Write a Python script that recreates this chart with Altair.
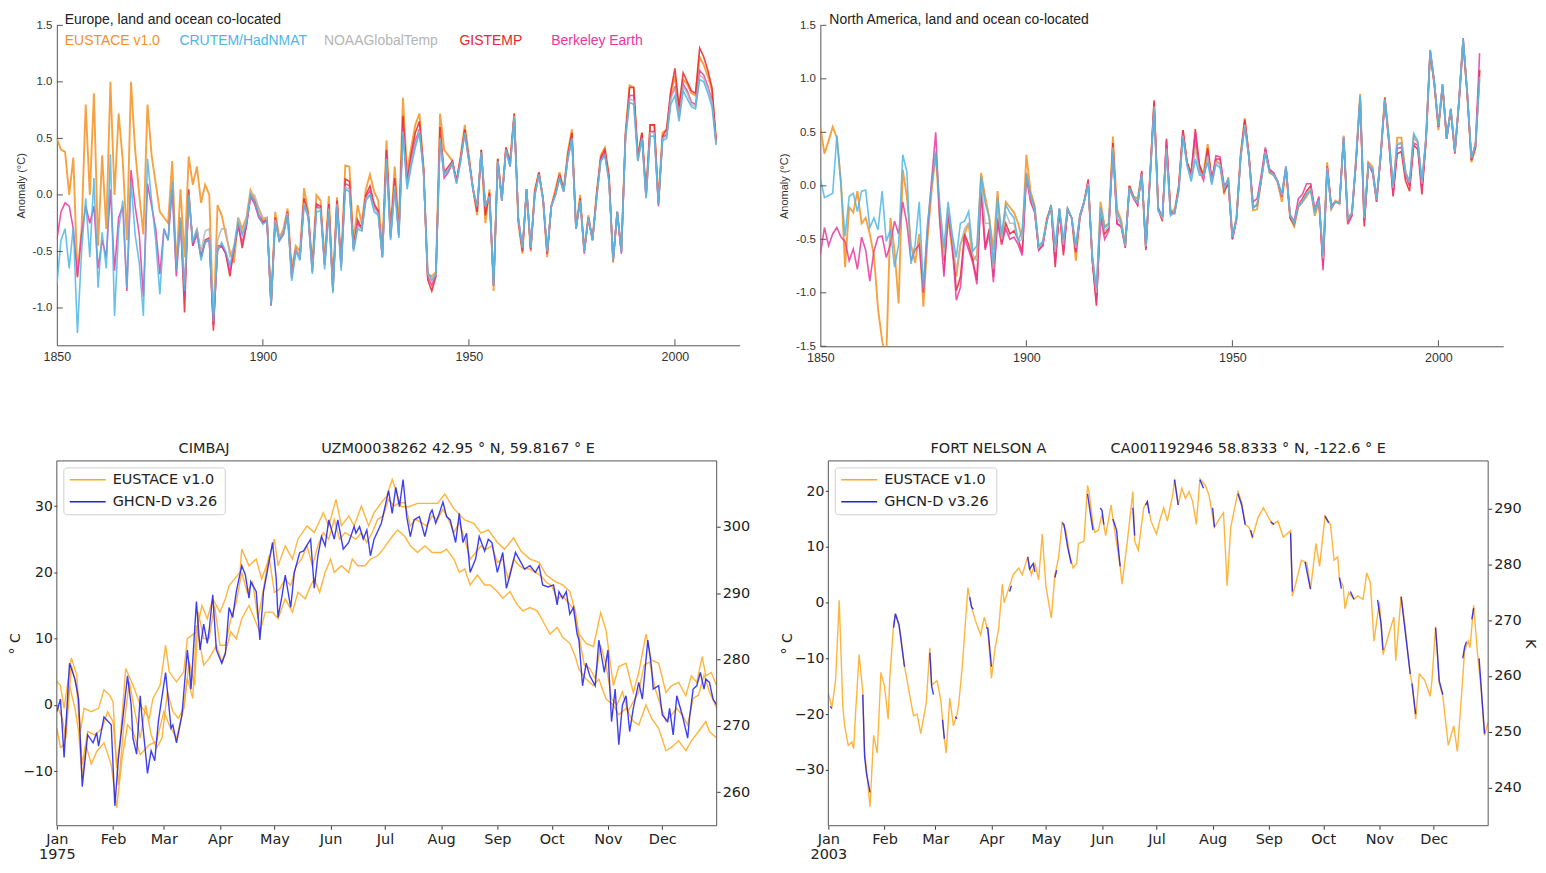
import altair as alt
import pandas as pd

LS = "Liberation Sans"
DJ = "DejaVu Sans"

# ---------------- annual anomalies (deg C), Europe ----------------
EU_START = 1850
EU_EUSTACE = [
    0.50, 0.40, 0.38, 0.00, 0.33, -0.72, -0.30, 0.80, 0.00, 0.90,
    -0.45, 0.35, -0.30, 1.00, 0.00, 0.72, 0.30, -0.40, 1.00, 0.40,
    0.00, -0.35, 0.80, 0.35, 0.10, -0.15, -0.20, -0.25, 0.30, -0.65,
    0.05, -0.55, 0.34, 0.09, 0.25, -0.07, 0.09, 0.00, -1.15, -0.09,
    -0.18, -0.35, -0.50, -0.60, -0.20, -0.30, -0.20, 0.04, -0.04, -0.12,
    -0.22, -0.20, -0.95, -0.15, -0.38, -0.30, -0.12, -0.65, -0.45, -0.50,
    0.06, -0.15, -0.62, 0.00, -0.05, -0.58, -0.01, -0.78, -0.02, -0.60,
    0.26, 0.25, -0.42, -0.09, -0.25, 0.05, 0.18, 0.03, -0.05, -0.48,
    0.48, -0.30, 0.25, -0.28, 0.86, 0.20, 0.42, 0.62, 0.72, 0.25,
    -0.70, -0.72, -0.68, 0.72, 0.40, 0.35, 0.30, 0.12, 0.35, 0.62,
    0.35, 0.05, -0.18, 0.40, -0.25, 0.05, -0.85, 0.32, -0.02, 0.42,
    0.30, 0.72, -0.25, -0.52, 0.05, -0.50, 0.05, 0.20, -0.05, -0.55,
    -0.10, 0.05, 0.20, 0.05, 0.38, 0.58, -0.30, 0.00, -0.48, -0.18,
    -0.40, 0.02, 0.35, 0.42, 0.18, -0.60, -0.15, -0.50, 0.55, 0.97,
    0.95, 0.35, 0.55, 0.02, 0.62, 0.62, -0.05, 0.55, 0.58, 0.90,
    1.05, 0.75, 1.02, 0.98, 0.90, 0.88, 1.22, 1.15, 1.05, 0.92,
    0.48,
]
EU_CRUTEM = [
    -0.80, -0.40, -0.30, -0.65, -0.28, -1.22, -0.50, -0.03, -0.55, 0.15,
    -0.82, -0.33, -0.65, 0.36, -1.07, -0.30, -0.05, -0.82, 0.12, -0.35,
    -0.60, -1.07, 0.32, -0.05, -0.40, -0.88, -0.30, -0.40, 0.12, -0.67,
    -0.23, -0.85, 0.00, -0.42, -0.32, -0.58, -0.41, -0.40, -1.12, -0.50,
    -0.42, -0.50, -0.62, -0.47, -0.25, -0.35, -0.26, 0.00, -0.06, -0.18,
    -0.26, -0.23, -0.98, -0.25, -0.41, -0.35, -0.18, -0.76, -0.50, -0.58,
    -0.09, -0.20, -0.70, -0.15, -0.14, -0.66, -0.15, -0.87, -0.10, -0.67,
    0.05, 0.03, -0.50, -0.30, -0.32, -0.05, 0.00, -0.15, -0.18, -0.55,
    0.30, -0.40, 0.05, -0.38, 0.55, 0.05, 0.25, 0.42, 0.55, 0.20,
    -0.68, -0.75, -0.70, 0.48, 0.18, 0.22, 0.28, 0.10, 0.30, 0.55,
    0.30, 0.05, -0.10, 0.38, -0.10, -0.02, -0.80, 0.30, -0.05, 0.40,
    0.25, 0.68, -0.20, -0.47, 0.05, -0.47, 0.00, 0.18, -0.03, -0.50,
    -0.10, 0.00, 0.15, 0.03, 0.32, 0.50, -0.30, -0.05, -0.50, -0.20,
    -0.40, -0.03, 0.30, 0.35, 0.12, -0.58, -0.15, -0.50, 0.50, 0.82,
    0.80, 0.30, 0.50, -0.03, 0.52, 0.52, -0.08, 0.48, 0.50, 0.80,
    0.88, 0.65, 0.92, 0.85, 0.78, 0.76, 1.02, 1.00, 0.90, 0.78,
    0.44,
]
EU_BERKELEY = [
    -0.40, -0.15, -0.07, -0.10, -0.30, -0.73, -0.35, -0.10, -0.25, -0.10,
    -0.65, -0.40, -0.55, 0.05, -0.67, -0.20, -0.10, -0.85, 0.22, -0.10,
    -0.35, -0.90, 0.10, -0.10, -0.30, -0.70, -0.30, -0.40, 0.05, -0.72,
    -0.22, -0.90, 0.00, -0.45, -0.35, -0.55, -0.42, -0.40, -1.15, -0.48,
    -0.45, -0.52, -0.68, -0.48, -0.28, -0.42, -0.28, -0.02, -0.08, -0.20,
    -0.25, -0.22, -0.98, -0.22, -0.40, -0.35, -0.16, -0.72, -0.48, -0.55,
    -0.06, -0.18, -0.68, -0.10, -0.12, -0.62, -0.10, -0.85, -0.06, -0.64,
    0.10, 0.08, -0.48, -0.25, -0.30, -0.02, 0.04, -0.10, -0.15, -0.55,
    0.35, -0.38, 0.12, -0.36, 0.60, 0.10, 0.32, 0.48, 0.58, 0.22,
    -0.72, -0.80, -0.70, 0.52, 0.15, 0.20, 0.28, 0.12, 0.32, 0.55,
    0.30, 0.05, -0.12, 0.38, -0.08, -0.02, -0.80, 0.30, -0.05, 0.40,
    0.25, 0.70, -0.22, -0.48, 0.05, -0.48, 0.00, 0.18, -0.03, -0.52,
    -0.10, 0.00, 0.15, 0.03, 0.32, 0.50, -0.30, -0.05, -0.52, -0.20,
    -0.40, -0.02, 0.32, 0.37, 0.14, -0.58, -0.15, -0.52, 0.52, 0.88,
    0.88, 0.32, 0.52, -0.02, 0.56, 0.56, -0.10, 0.50, 0.54, 0.86,
    0.96, 0.70, 0.98, 0.92, 0.82, 0.80, 1.10, 1.06, 0.96, 0.84,
    0.46,
]
EU_LATE_START = 1880
EU_GISTEMP = [
    -0.20, -1.04, 0.05, -0.45, -0.30, -0.55, -0.40, -0.38, -1.20, -0.45,
    -0.45, -0.52, -0.72, -0.47, -0.25, -0.47, -0.27, 0.00, -0.06, -0.18,
    -0.24, -0.22, -0.97, -0.20, -0.40, -0.33, -0.15, -0.72, -0.48, -0.55,
    -0.03, -0.17, -0.66, -0.08, -0.10, -0.62, -0.08, -0.85, -0.05, -0.63,
    0.14, 0.12, -0.47, -0.22, -0.30, 0.00, 0.08, -0.08, -0.14, -0.55,
    0.40, -0.36, 0.15, -0.34, 0.70, 0.12, 0.36, 0.55, 0.65, 0.22,
    -0.75, -0.85, -0.72, 0.60, 0.20, 0.25, 0.30, 0.12, 0.33, 0.58,
    0.32, 0.06, -0.15, 0.40, -0.18, 0.02, -0.80, 0.32, -0.05, 0.42,
    0.28, 0.72, -0.22, -0.50, 0.05, -0.48, 0.03, 0.20, -0.03, -0.52,
    -0.10, 0.02, 0.18, 0.04, 0.35, 0.55, -0.30, -0.03, -0.50, -0.20,
    -0.40, 0.00, 0.33, 0.40, 0.16, -0.58, -0.15, -0.50, 0.52, 0.95,
    0.95, 0.33, 0.55, 0.00, 0.62, 0.62, -0.08, 0.52, 0.58, 0.92,
    1.12, 0.78, 1.08, 1.00, 0.92, 0.90, 1.30, 1.22, 1.10, 0.95,
    0.48,
]
EU_NOAA = [
    -0.20, -0.80, 0.00, -0.40, -0.30, -0.50, -0.32, -0.30, -1.05, -0.40,
    -0.30, -0.30, -0.55, -0.45, -0.20, -0.35, -0.22, 0.02, 0.00, -0.12,
    -0.20, -0.20, -0.95, -0.22, -0.38, -0.32, -0.16, -0.74, -0.48, -0.55,
    -0.07, -0.18, -0.68, -0.12, -0.12, -0.62, -0.12, -0.84, -0.08, -0.64,
    0.07, 0.05, -0.48, -0.28, -0.30, -0.03, 0.00, -0.12, -0.17, -0.55,
    0.32, -0.38, 0.08, -0.36, 0.56, 0.08, 0.28, 0.45, 0.57, 0.20,
    -0.70, -0.76, -0.70, 0.50, 0.18, 0.22, 0.28, 0.10, 0.30, 0.55,
    0.30, 0.05, -0.10, 0.38, -0.10, -0.01, -0.80, 0.30, -0.05, 0.40,
    0.25, 0.70, -0.20, -0.47, 0.05, -0.47, 0.00, 0.18, -0.03, -0.50,
    -0.10, 0.00, 0.15, 0.03, 0.32, 0.50, -0.30, -0.05, -0.50, -0.20,
    -0.40, -0.03, 0.30, 0.35, 0.12, -0.58, -0.15, -0.50, 0.50, 0.85,
    0.83, 0.30, 0.50, -0.03, 0.55, 0.55, -0.08, 0.50, 0.52, 0.85,
    0.95, 0.68, 0.96, 0.90, 0.80, 0.78, 1.06, 1.03, 0.94, 0.82,
    0.45,
]

# ---------------- annual anomalies (deg C), North America ----------------
NA_EUSTACE = [
    0.55, 0.30, 0.42, 0.55, 0.45, 0.05, -0.76, -0.20, -0.25, -0.05,
    -0.35, -0.30, -0.45, -0.65, -1.15, -1.45, -1.62, -0.30, -0.60, -1.10,
    0.15, -0.10, -0.55, -0.72, -0.45, -1.13, -0.50, -0.05, 0.30, -0.30,
    -0.70, -0.30, -0.60, -0.85, -0.55, -0.45, -0.35, -0.70, -0.65, 0.12,
    -0.10, -0.30, -0.60, -0.05, -0.55, -0.15, -0.20, -0.25, -0.35, -0.50,
    0.29, -0.05, -0.18, -0.58, -0.52, -0.30, -0.20, -0.68, -0.22, -0.55,
    -0.22, -0.30, -0.70, -0.28, -0.15, 0.02, -0.68, -1.05, -0.15, -0.38,
    -0.35, 0.46, -0.22, -0.32, -0.55, 0.00, -0.10, -0.12, 0.12, -0.58,
    0.08, 0.78, -0.22, -0.30, 0.38, -0.25, -0.22, 0.00, 0.52, 0.22,
    0.10, 0.42, 0.18, 0.12, 0.39, 0.04, 0.24, 0.20, -0.08, 0.08,
    -0.48, -0.30, 0.30, 0.63, 0.30, -0.23, -0.22, 0.05, 0.33, 0.12,
    0.10, 0.03, -0.15, 0.18, -0.30, -0.38, -0.20, -0.15, -0.10, -0.03,
    -0.28, -0.15, -0.70, 0.22, -0.22, -0.14, -0.17, 0.47, -0.33, -0.28,
    0.25, 0.86, -0.32, 0.22, 0.18, -0.15, 0.30, 0.83, 0.45, -0.05,
    0.45, 0.45, 0.14, 0.00, 0.46, 0.40, 0.00, 0.45, 1.25, 0.95,
    0.52, 0.93, 0.44, 0.72, 0.32, 0.80, 1.35, 0.85, 0.22, 0.35,
    1.08,
]
NA_CRUTEM = [
    0.07, -0.11, -0.09, -0.07, 0.47, 0.00, -0.47, -0.10, -0.07, -0.24,
    -0.05, -0.04, -0.39, -0.30, -0.41, -0.05, -0.52, -0.41, -0.76, -0.55,
    0.29, 0.13, -0.73, -0.55, -0.15, -0.95, -0.36, 0.00, 0.32, -0.18,
    -0.58, -0.15, -0.45, -0.67, -0.35, -0.33, -0.24, -0.61, -0.56, 0.09,
    -0.16, -0.30, -0.73, -0.11, -0.45, -0.18, -0.25, -0.30, -0.52, -0.40,
    0.10, -0.08, -0.20, -0.56, -0.52, -0.33, -0.18, -0.55, -0.21, -0.50,
    -0.21, -0.30, -0.55, -0.27, -0.15, 0.00, -0.65, -0.95, -0.20, -0.39,
    -0.36, 0.32, -0.24, -0.35, -0.55, -0.02, -0.11, -0.15, 0.10, -0.56,
    0.05, 0.72, -0.24, -0.28, 0.30, -0.28, -0.24, -0.05, 0.45, 0.19,
    0.04, 0.25, 0.10, 0.10, 0.22, 0.01, 0.20, 0.17, -0.02, 0.07,
    -0.48, -0.30, 0.26, 0.55, 0.26, -0.21, -0.18, 0.05, 0.30, 0.13,
    0.10, 0.04, -0.07, 0.18, -0.27, -0.35, -0.19, -0.15, -0.08, -0.05,
    -0.24, -0.13, -0.65, 0.15, -0.21, -0.15, -0.16, 0.45, -0.30, -0.25,
    0.25, 0.84, -0.28, 0.19, 0.16, -0.12, 0.30, 0.81, 0.44, 0.00,
    0.38, 0.40, 0.12, 0.05, 0.49, 0.42, 0.05, 0.45, 1.27, 0.97,
    0.56, 0.95, 0.44, 0.72, 0.32, 0.80, 1.37, 0.87, 0.26, 0.38,
    1.00,
]
NA_BERKELEY = [
    -0.64, -0.39, -0.56, -0.45, -0.39, -0.48, -0.52, -0.70, -0.59, -0.78,
    -0.48, -0.60, -0.89, -0.61, -0.48, -0.47, -0.67, -0.55, -0.33, -0.45,
    -0.15, -0.35, -0.70, -0.60, -0.55, -1.00, -0.40, 0.05, 0.50, -0.35,
    -0.85, -0.25, -0.55, -1.07, -0.95, -0.48, -0.60, -0.72, -0.92, -0.05,
    -0.60, -0.45, -0.90, -0.35, -0.55, -0.40, -0.50, -0.48, -0.55, -0.65,
    0.08, -0.15, -0.25, -0.60, -0.55, -0.32, -0.20, -0.72, -0.22, -0.62,
    -0.22, -0.30, -0.62, -0.30, -0.16, 0.04, -0.68, -1.08, -0.30, -0.50,
    -0.42, 0.35, -0.36, -0.38, -0.55, -0.03, -0.12, -0.18, 0.12, -0.58,
    0.08, 0.75, -0.20, -0.30, 0.42, -0.26, -0.26, -0.02, 0.50, 0.20,
    0.10, 0.50, 0.15, 0.05, 0.30, 0.05, 0.28, 0.27, 0.00, 0.05,
    -0.50, -0.32, 0.26, 0.58, 0.28, -0.15, -0.12, 0.10, 0.36, 0.16,
    0.12, 0.04, -0.10, 0.18, -0.27, -0.33, -0.12, -0.08, 0.02, 0.02,
    -0.22, -0.10, -0.79, 0.18, -0.18, -0.15, -0.16, 0.45, -0.36, -0.28,
    0.22, 0.82, -0.34, 0.20, 0.12, -0.15, 0.28, 0.80, 0.40, -0.08,
    0.35, 0.36, 0.10, 0.00, 0.40, 0.38, -0.04, 0.45, 1.27, 0.97,
    0.56, 0.95, 0.44, 0.72, 0.32, 0.80, 1.38, 0.87, 0.25, 0.40,
    1.24,
]
NA_GISTEMP = [
    -0.80, -0.25, -0.50, -0.98, -0.85, -0.45, -0.55, -0.70, -0.88, 0.00,
    -0.58, -0.40, -0.85, -0.30, -0.52, -0.35, -0.45, -0.42, -0.50, -0.62,
    0.12, -0.12, -0.22, -0.60, -0.56, -0.32, -0.18, -0.76, -0.22, -0.65,
    -0.22, -0.30, -0.62, -0.28, -0.15, 0.06, -0.70, -1.12, -0.25, -0.45,
    -0.40, 0.40, -0.35, -0.38, -0.58, 0.00, -0.10, -0.18, 0.14, -0.60,
    0.08, 0.80, -0.22, -0.33, 0.44, -0.25, -0.25, 0.00, 0.52, 0.22,
    0.12, 0.53, 0.20, 0.08, 0.35, 0.05, 0.25, 0.25, -0.05, 0.02,
    -0.50, -0.30, 0.28, 0.62, 0.28, -0.20, -0.18, 0.06, 0.34, 0.14,
    0.12, 0.04, -0.10, 0.17, -0.30, -0.36, -0.18, -0.12, -0.05, 0.00,
    -0.24, -0.12, -0.75, 0.18, -0.20, -0.15, -0.16, 0.45, -0.32, -0.26,
    0.22, 0.82, -0.38, 0.20, 0.14, -0.12, 0.28, 0.82, 0.40, -0.10,
    0.30, 0.32, 0.05, -0.05, 0.38, 0.34, -0.08, 0.42, 1.25, 0.95,
    0.55, 0.93, 0.44, 0.70, 0.30, 0.78, 1.35, 0.85, 0.24, 0.36,
    1.08,
]
NA_NOAA = [
    -0.65, -0.20, -0.48, -0.80, -0.55, -0.40, -0.35, -0.65, -0.70, 0.05,
    -0.35, -0.35, -0.78, -0.20, -0.50, -0.25, -0.35, -0.35, -0.52, -0.50,
    0.12, -0.10, -0.22, -0.58, -0.53, -0.33, -0.19, -0.62, -0.21, -0.55,
    -0.21, -0.30, -0.58, -0.28, -0.15, 0.02, -0.66, -1.00, -0.22, -0.42,
    -0.38, 0.36, -0.30, -0.36, -0.56, -0.02, -0.11, -0.16, 0.11, -0.57,
    0.06, 0.74, -0.23, -0.30, 0.35, -0.27, -0.25, -0.04, 0.47, 0.20,
    0.06, 0.35, 0.13, 0.09, 0.28, 0.03, 0.22, 0.20, -0.03, 0.06,
    -0.48, -0.30, 0.27, 0.57, 0.27, -0.20, -0.17, 0.06, 0.32, 0.13,
    0.11, 0.04, -0.09, 0.18, -0.28, -0.35, -0.18, -0.14, -0.07, -0.03,
    -0.24, -0.13, -0.68, 0.17, -0.21, -0.15, -0.16, 0.46, -0.31, -0.26,
    0.24, 0.84, -0.30, 0.20, 0.15, -0.13, 0.30, 0.81, 0.43, -0.02,
    0.40, 0.40, 0.12, 0.03, 0.46, 0.40, 0.02, 0.45, 1.27, 0.97,
    0.56, 0.95, 0.44, 0.72, 0.32, 0.80, 1.37, 0.87, 0.26, 0.38,
    1.02,
]

# ---------------- daily temperatures (day of year, deg C) ----------------
CIM_EUSTACE_HI = [
    (0, 3.6), (2, 2.9), (4, -0.5), (8, 7.1), (11, 4.5), (13, -4.0), (15, -0.5), (19, -1.0), (23, -0.5), (26, 2.3),
    (29, 1.5), (31, 0.5), (33, -9.5), (35, -5.0), (38, 5.5), (42, 3.0), (46, 0.0), (51, -2.0), (53, 1.0), (57, 3.0),
    (60, 9.0), (62, 5.0), (66, 3.5), (70, 5.0), (72, 10.0), (77, 11.0), (80, 15.0), (83, 13.0), (86, 16.0), (90, 14.0),
    (93, 16.0), (95, 18.0), (101, 20.0), (102, 23.5), (106, 21.0), (110, 22.0), (113, 19.0), (117, 22.0), (120, 25.0), (122, 21.0),
    (126, 24.0), (130, 22.0), (133, 25.0), (138, 27.0), (142, 26.0), (147, 29.0), (150, 27.0), (154, 31.0), (157, 27.0), (161, 28.5),
    (164, 27.0), (168, 30.0), (172, 27.0), (175, 29.0), (179, 30.5), (182, 31.5), (185, 34.0), (190, 29.9), (194, 29.9), (199, 30.4),
    (205, 30.4), (210, 30.4), (214, 31.8), (219, 29.6), (225, 27.9), (230, 27.4), (234, 25.9), (238, 26.4), (243, 24.5), (247, 23.5),
    (252, 25.2), (256, 23.2), (261, 22.0), (266, 21.5), (270, 19.6), (275, 18.6), (279, 18.1), (283, 17.1), (286, 14.2), (288, 10.7),
    (292, 9.3), (296, 8.8), (300, 13.9), (303, 11.2), (307, 2.9), (310, 5.8), (314, 6.3), (318, 1.9), (321, 4.9), (325, 10.7),
    (328, 6.8), (332, 6.3), (336, 1.9), (339, 2.9), (343, 3.4), (347, 1.4), (350, 4.4), (353, 3.4), (356, 7.3), (358, 4.4),
    (361, 4.9), (364, 2.9),
]
CIM_EUSTACE_MID = [
    (0, 0.0), (3, -2.0), (5, -5.0), (8, 6.0), (11, 2.5), (14, -9.0), (17, -4.0), (21, -4.5), (25, -3.5), (28, -1.0),
    (31, -2.5), (34, -12.0), (37, -3.0), (40, 3.5), (43, -1.0), (46, -5.0), (49, 0.0), (52, -4.5), (55, -6.5), (58, -5.0),
    (61, 2.0), (64, -1.0), (67, -2.0), (70, -0.5), (73, 6.5), (76, 3.0), (78, 14.0), (81, 10.0), (84, 10.0), (87, 15.0),
    (90, 9.0), (93, 9.0), (96, 13.0), (99, 15.5), (102, 20.0), (105, 17.0), (108, 18.5), (111, 13.0), (114, 17.5), (117, 22.5),
    (120, 17.0), (123, 17.5), (126, 19.0), (129, 18.0), (132, 21.0), (135, 22.0), (138, 24.0), (141, 21.0), (144, 24.0), (147, 26.0),
    (150, 25.0), (153, 28.0), (156, 25.0), (159, 26.0), (162, 25.5), (165, 25.0), (168, 26.0), (171, 24.5), (174, 26.0), (177, 28.0),
    (180, 28.5), (183, 31.0), (186, 30.0), (189, 30.5), (192, 30.5), (195, 27.0), (198, 28.0), (201, 27.5), (204, 27.0), (207, 28.5),
    (210, 28.0), (213, 29.5), (216, 28.0), (219, 26.0), (222, 27.5), (225, 25.0), (228, 22.0), (231, 23.0), (234, 24.0), (237, 23.5),
    (240, 24.0), (243, 21.5), (246, 22.0), (249, 19.0), (252, 22.0), (255, 21.0), (258, 20.5), (261, 20.5), (264, 20.0), (267, 19.5),
    (270, 18.5), (273, 18.0), (276, 16.0), (279, 16.5), (282, 15.5), (285, 14.5), (288, 10.5), (291, 6.0), (294, 5.5), (297, 4.0),
    (300, 9.0), (303, 6.0), (306, 1.0), (309, 0.0), (312, 2.0), (315, -1.0), (318, 0.5), (321, 2.0), (324, 6.0), (327, 6.5),
    (330, 2.5), (333, 0.0), (336, -2.5), (339, -1.5), (342, -0.5), (345, -1.5), (348, -3.0), (351, 1.0), (354, 1.5), (357, 4.5),
    (360, 2.0), (364, -0.5),
]
CIM_EUSTACE_LO = [
    (0, -3.5), (2, -6.4), (4, -6.0), (7, 2.9), (10, -0.5), (12, -4.0), (14, -11.0), (16, -6.0), (19, -8.9), (22, -7.0),
    (26, -5.7), (30, -9.0), (33, -15.5), (36, -8.0), (39, -3.0), (42, -4.0), (46, -7.5), (51, -6.0), (55, -5.5), (59, -1.0),
    (62, -3.0), (66, -5.0), (70, -0.5), (72, 4.0), (75, 1.0), (77, 12.0), (81, 6.0), (84, 7.0), (88, 9.0), (91, 6.5),
    (93, 8.0), (96, 11.0), (99, 10.0), (102, 13.0), (106, 15.0), (109, 13.0), (112, 11.0), (115, 14.0), (119, 14.0), (122, 13.0),
    (126, 16.0), (130, 14.0), (133, 17.0), (137, 16.0), (140, 18.0), (142, 19.0), (145, 17.0), (148, 20.0), (151, 22.0), (153, 20.0),
    (157, 21.0), (161, 20.0), (163, 22.0), (166, 21.0), (170, 21.0), (173, 22.0), (177, 22.5), (180, 23.5), (185, 25.4), (188, 26.4),
    (192, 25.4), (195, 24.0), (199, 23.0), (203, 24.0), (207, 23.0), (212, 23.0), (215, 23.5), (219, 22.0), (222, 20.0), (225, 20.5),
    (228, 18.1), (232, 19.6), (236, 18.1), (239, 18.1), (243, 17.1), (246, 16.1), (250, 17.1), (254, 15.1), (257, 14.2), (261, 14.7),
    (265, 14.2), (268, 12.7), (272, 10.7), (276, 11.7), (279, 10.2), (283, 9.3), (286, 7.3), (288, 5.4), (292, 3.9), (296, 2.9),
    (299, 3.9), (303, 0.9), (307, 0.0), (310, -1.5), (314, -0.5), (318, -2.5), (321, -3.0), (325, 0.0), (328, -2.0), (332, -3.5),
    (336, -6.9), (339, -6.4), (343, -5.4), (347, -6.9), (350, -5.4), (354, -4.0), (358, -2.5), (360, -4.0), (364, -5.0),
]
CIM_GHCN = [
    (0, -1.0), (2, 0.9), (4, -7.9), (7, 6.3), (10, 3.9), (12, 0.9), (14, -12.3), (17, -4.5), (20, -5.7), (22, -4.2),
    (23, -6.2), (26, -1.8), (30, -3.0), (32, -15.2), (34, -8.0), (36, -3.0), (39, 4.4), (41, 0.0), (42, -5.0), (44, -7.4),
    (46, 1.4), (47, -2.0), (49, -7.4), (50, -10.3), (52, -6.9), (54, -8.4), (56, -2.5), (60, 4.9), (63, -3.5), (64, -3.0),
    (66, -5.7), (69, -1.5), (72, 8.3), (73, 5.8), (74, 2.4), (77, 15.6), (79, 8.3), (81, 12.2), (83, 9.3), (84, 11.2),
    (86, 16.6), (88, 8.3), (91, 6.3), (93, 7.8), (95, 14.7), (97, 13.2), (99, 17.1), (102, 21.0), (104, 19.6), (106, 16.1),
    (107, 18.6), (110, 17.1), (112, 9.8), (114, 17.1), (116, 20.0), (119, 24.5), (121, 19.1), (122, 13.2), (124, 16.1), (126, 19.6),
    (129, 14.7), (131, 20.0), (133, 22.0), (134, 23.0), (136, 23.2), (140, 25.0), (142, 17.6), (144, 22.5), (146, 25.4), (148, 24.0),
    (150, 27.9), (153, 25.0), (155, 27.9), (158, 23.5), (161, 24.5), (164, 26.9), (165, 25.9), (167, 26.9), (169, 25.0), (171, 26.4),
    (173, 22.5), (175, 25.0), (179, 27.4), (183, 32.3), (185, 28.9), (187, 32.8), (189, 29.9), (191, 34.0), (193, 28.4), (195, 25.4),
    (197, 27.9), (200, 28.4), (203, 25.4), (206, 28.9), (207, 29.4), (209, 27.4), (211, 28.9), (213, 30.6), (215, 28.4), (217, 27.9),
    (220, 24.5), (222, 28.9), (224, 24.5), (226, 25.9), (228, 20.0), (231, 22.0), (233, 25.4), (236, 23.2), (238, 25.0), (240, 24.5),
    (243, 20.0), (246, 23.0), (248, 17.6), (250, 19.6), (253, 23.0), (256, 21.5), (258, 20.5), (261, 21.0), (264, 20.0), (266, 21.0),
    (268, 18.1), (271, 17.8), (274, 18.1), (276, 15.1), (277, 17.1), (279, 16.1), (281, 17.1), (283, 13.7), (285, 14.7), (287, 10.7),
    (288, 9.8), (290, 2.9), (292, 6.3), (294, 4.4), (297, 2.9), (299, 9.8), (302, 4.9), (304, 8.3), (306, -2.5), (308, 2.4),
    (310, -6.0), (312, 0.0), (314, 1.4), (316, -4.0), (318, -0.5), (321, 3.4), (323, 0.9), (326, 9.8), (328, 5.8), (329, 2.4),
    (332, 2.9), (334, -1.5), (337, -2.5), (338, -0.5), (340, -4.5), (342, 1.4), (345, -1.5), (348, -5.0), (349, -2.0), (351, 2.4),
    (353, 2.9), (355, 4.9), (357, 2.4), (358, 3.9), (360, 3.4), (362, 0.9), (364, 0.0),
]

FN_EUSTACE = [
    (0, -16.3), (2, -18.8), (4, -14.0), (6, 0.4), (8, -18.6), (9, -22.1), (11, -25.6), (13, -25.0), (14, -26.2), (15, -20.0),
    (17, -9.3), (19, -16.0), (20, -26.7), (21, -29.7), (23, -36.6), (25, -23.8), (27, -27.0), (29, -12.5), (31, -15.0), (33, -20.9),
    (34, -13.0), (36, -4.0), (37, -2.0), (39, -4.0), (40, -6.0), (42, -11.3), (45, -16.8), (47, -20.3), (49, -20.0), (51, -23.5),
    (54, -18.0), (56, -8.1), (57, -14.8), (60, -14.0), (62, -17.4), (64, -24.4), (65, -27.0), (67, -17.1), (69, -22.1), (71, -20.0),
    (72, -18.0), (74, -11.0), (77, 2.7), (79, -0.8), (81, -3.1), (84, -5.8), (86, -2.6), (88, -5.0), (90, -13.6), (92, -8.1),
    (94, -4.6), (96, 3.3), (97, 0.0), (100, 3.0), (102, 5.0), (105, 6.2), (107, 5.0), (110, 8.2), (112, 5.0), (114, 7.0),
    (116, 4.1), (118, 12.3), (120, 3.0), (123, -2.8), (125, 5.0), (127, 8.0), (129, 14.3), (131, 13.0), (133, 8.8), (135, 6.2),
    (137, 7.0), (138, 10.6), (141, 11.0), (143, 21.0), (144, 19.5), (146, 14.0), (147, 12.6), (149, 13.0), (151, 15.8), (153, 12.0),
    (156, 17.5), (157, 15.0), (161, 6.5), (162, 3.3), (165, 11.1), (168, 19.9), (169, 11.0), (171, 9.4), (174, 17.0), (176, 18.1),
    (178, 14.6), (181, 12.3), (183, 14.9), (185, 17.0), (187, 14.6), (190, 19.3), (191, 22.2), (193, 17.5), (195, 20.5), (197, 18.7),
    (199, 19.9), (201, 18.1), (203, 14.0), (205, 22.2), (208, 21.0), (210, 19.3), (213, 13.5), (216, 15.2), (218, 16.1), (220, 3.0),
    (222, 13.5), (226, 19.9), (228, 18.1), (230, 14.0), (232, 13.5), (234, 11.7), (237, 15.2), (240, 17.0), (242, 15.8), (245, 14.0),
    (248, 14.6), (251, 11.7), (255, 12.9), (256, 1.2), (258, 3.6), (261, 7.6), (264, 7.1), (266, 2.4), (269, 10.6), (271, 6.5),
    (274, 15.5), (277, 14.0), (279, 7.6), (281, 8.2), (282, 4.1), (284, 3.0), (285, -1.1), (287, 1.8), (290, 0.6), (292, 1.2),
    (295, 0.6), (297, 5.3), (299, 3.6), (301, -6.9), (304, 0.1), (306, -9.3), (309, -5.8), (312, -2.6), (313, -10.4), (316, 1.2),
    (318, -4.0), (321, -12.8), (322, -14.5), (324, -20.9), (326, -12.8), (329, -13.9), (332, -16.8), (333, -13.9), (335, -4.3), (337, -14.5),
    (339, -16.8), (342, -25.6), (345, -22.1), (347, -26.7), (349, -18.0), (351, -8.7), (353, -6.9), (354, -8.1), (356, -0.5), (358, -8.7),
    (360, -15.1), (362, -23.8), (364, -21.5),
]
# GHCN-D at Fort Nelson: (stretch id, day, deg C) where it departs visibly from EUSTACE
FN_GHCN = [
    (1, 1, -18.6), (1, 2, -19.0),
    (2, 19, -16.5), (2, 20, -27.5), (2, 21, -30.5), (2, 23, -34.0),
    (3, 36, -4.5), (3, 37, -2.0), (3, 39, -4.0), (3, 40, -6.5), (3, 42, -11.5),
    (4, 56, -9.0), (4, 57, -15.0), (4, 58, -16.5),
    (5, 63, -21.0), (5, 64, -24.4),
    (6, 70, -20.5), (6, 71, -20.8),
    (7, 78, 1.0), (7, 79, -0.8), (7, 80, -1.2),
    (8, 87, -4.5), (8, 88, -4.6), (8, 89, -8.0), (8, 90, -11.5),
    (9, 100, 2.0), (9, 101, 3.0),
    (10, 110, 8.2), (10, 111, 6.0), (10, 113, 7.0), (10, 114, 5.5),
    (11, 125, 4.5), (11, 126, 5.8),
    (12, 129, 14.3), (12, 130, 14.0), (12, 132, 10.0), (12, 134, 7.0),
    (13, 143, 19.5), (13, 145, 15.0), (13, 146, 13.0),
    (14, 150, 17.0), (14, 151, 16.5), (14, 152, 14.0),
    (15, 157, 15.0), (15, 159, 13.0), (15, 161, 6.5),
    (16, 168, 17.0), (16, 169, 12.0),
    (17, 175, 17.5), (17, 176, 18.1), (17, 177, 16.0),
    (18, 191, 22.0), (18, 193, 17.5),
    (19, 205, 22.0), (19, 207, 20.5),
    (20, 212, 17.0), (20, 213, 13.5),
    (21, 226, 19.5), (21, 228, 17.5), (21, 230, 14.0),
    (22, 233, 13.0), (22, 234, 11.7),
    (23, 244, 14.5), (23, 246, 14.0),
    (24, 255, 12.5), (24, 256, 2.0),
    (25, 263, 7.3), (25, 265, 4.0), (25, 266, 2.4),
    (26, 274, 15.5), (26, 276, 14.3),
    (27, 282, 4.5), (27, 283, 2.5),
    (28, 288, 2.0), (28, 290, 0.6),
    (29, 303, 0.5), (29, 305, -4.0), (29, 306, -8.5),
    (30, 316, 1.0), (30, 318, -4.5), (30, 320, -10.0), (30, 321, -12.8),
    (31, 322, -14.5), (31, 324, -20.0),
    (32, 335, -4.5), (32, 336, -9.0), (32, 337, -14.0), (32, 339, -16.5),
    (33, 350, -10.0), (33, 351, -8.0), (33, 352, -7.0),
    (34, 355, -3.0), (34, 356, -1.0),
    (35, 359, -10.0), (35, 361, -19.0), (35, 362, -23.5),
]

MONTH_START = [0, 31, 59, 90, 120, 151, 181, 212, 243, 273, 304, 334]
MONTH_NAME = ["Jan", "Feb", "Mar", "Apr", "May", "Jun", "Jul", "Aug", "Sep", "Oct", "Nov", "Dec"]

TOP_NAMES = ["EUSTACE v1.0", "CRUTEM/HadNMAT", "NOAAGlobalTemp", "GISTEMP", "Berkeley Earth"]
TOP_COLORS = {"EUSTACE v1.0": "#f7901e", "CRUTEM/HadNMAT": "#4db6e6", "NOAAGlobalTemp": "#b5b5b5",
              "GISTEMP": "#e8262c", "Berkeley Earth": "#e9379c"}
STATION_SERIES = ["EUSTACE v1.0", "GHCN-D v3.26"]
STATION_COLORS = ["#ffa719", "#1c1cf0"]

DUMMY = pd.DataFrame({"k": [0]})


def annual(values, start, name):
    return pd.DataFrame({"year": list(range(start, start + len(values))), "anom": values, "dataset": name})


def top_panel(title, dx, frames, ydom, yvals, height, legend):
    width = 685
    xs = alt.Scale(domain=[1850, 2015.7], nice=False, zero=False)
    ys = alt.Scale(domain=ydom, nice=False, zero=False)
    xaxis = alt.Axis(values=[1850, 1900, 1950, 2000], format="d", title=None, grid=False, ticks=False,
                     labelFont=LS, labelFontSize=12.5, labelColor="#333", labelPadding=5,
                     domainColor="#555", labelFlush=False)
    yaxis = alt.Axis(values=yvals, format=".1f", title="Anomaly (°C)", grid=False, ticks=False,
                     labelFont=LS, labelFontSize=11.5, labelColor="#333", labelPadding=5,
                     labelExpr="replace(datum.label, '\u2212', '-')",
                     domainColor="#555", titleFont=LS, titleFontSize=11, titleFontWeight="normal",
                     titleColor="#333", titlePadding=6)
    layers = []
    order = ["EUSTACE v1.0", "GISTEMP", "Berkeley Earth", "NOAAGlobalTemp", "CRUTEM/HadNMAT"]
    for name in order:
        df = frames[name]
        layers.append(
            alt.Chart(df).mark_line(color=TOP_COLORS[name], strokeWidth=1.9 if name == "EUSTACE v1.0" else 1.6,
                                    opacity=0.85, clip=True)
            .encode(x=alt.X("year:Q", scale=xs, axis=xaxis), y=alt.Y("anom:Q", scale=ys, axis=yaxis))
        )
    layers.append(
        alt.Chart(pd.DataFrame({"year": [1900, 1950, 2000]})).mark_rule(color="#555")
        .encode(x=alt.X("year:Q", scale=xs, axis=xaxis), y=alt.value(height), y2=alt.value(height - 6))
    )
    layers.append(
        alt.Chart(pd.DataFrame({"anom": yvals})).mark_rule(color="#555")
        .encode(y=alt.Y("anom:Q", scale=ys, axis=yaxis), x=alt.value(0), x2=alt.value(6))
    )
    layers.append(
        alt.Chart(DUMMY).mark_text(align="left", baseline="middle", font=LS, fontSize=14, color="#222")
        .encode(x=alt.value(dx), y=alt.value(-5), text=alt.value(title))
    )
    if legend:
        offsets = [8, 123, 268, 404, 496]
        for name, off in zip(TOP_NAMES, offsets):
            layers.append(
                alt.Chart(DUMMY).mark_text(align="left", baseline="middle", font=LS, fontSize=14,
                                           color=TOP_COLORS[name])
                .encode(x=alt.value(off), y=alt.value(16), text=alt.value(name))
            )
    return alt.layer(*layers).properties(width=width, height=height)


def month_expr(year_text):
    expr = "''"
    for start, name in reversed(list(zip(MONTH_START, MONTH_NAME))):
        if start == 0:
            expr = f"datum.value == 0 ? ['Jan', '{year_text}'] : ({expr})"
        else:
            expr = f"datum.value == {start} ? '{name}' : ({expr})"
    return expr


def station_legend():
    box = alt.Chart(DUMMY).mark_rect(fill="white", opacity=0.9, stroke="#cccccc", strokeWidth=1,
                                     cornerRadius=3).encode(
        x=alt.value(7), x2=alt.value(169), y=alt.value(7), y2=alt.value(54))
    parts = [box]
    for i, (name, col) in enumerate(zip(STATION_SERIES, STATION_COLORS)):
        yy = 19 + 22 * i
        parts.append(alt.Chart(DUMMY).mark_rule(color=col, strokeWidth=1.5).encode(
            x=alt.value(13), x2=alt.value(49), y=alt.value(yy)))
        parts.append(alt.Chart(DUMMY).mark_text(align="left", baseline="middle", font=DJ, fontSize=14.5,
                                                color="#222").encode(
            x=alt.value(56), y=alt.value(yy), text=alt.value(name)))
    return parts


def station_panel(title, orange_df, blue_df, ydom, yvals, kvals, k_title, year_text, width, height):
    xs = alt.Scale(domain=[0, 364], nice=False, zero=False)
    xaxis = alt.Axis(values=MONTH_START, labelExpr=month_expr(year_text), title=None, grid=False,
                     tickSize=3.5, tickColor="#333", labelPadding=3, labelFont=DJ, labelFontSize=14.5,
                     labelColor="#222", domain=False, labelLineHeight=15, labelFlush=False)
    ys = alt.Scale(domain=ydom, nice=False, zero=False)
    yaxis = alt.Axis(values=yvals, orient="left", title="°\u00a0C", grid=False, tickSize=3, tickColor="#333",
                     labelPadding=1.5, labelFont=DJ, labelFontSize=14, labelColor="#222", domain=False,
                     labelExpr="replace(datum.label, '-', '\u2212')",
                     titleFont=DJ, titleFontSize=14, titleFontWeight="normal", titleColor="#222",
                     titlePadding=0)
    kdom = [ydom[0] + 273.15, ydom[1] + 273.15]
    kaxis_args = dict(values=kvals, orient="right", grid=False, tickSize=3.5, tickColor="#333", labelPadding=2,
                      labelFont=DJ, labelFontSize=14.5, labelColor="#222", domain=False)
    if k_title:
        kaxis = alt.Axis(title="K", titleFont=DJ, titleFontSize=14.5, titleFontWeight="normal",
                         titleColor="#222", titlePadding=1, **kaxis_args)
    else:
        kaxis = alt.Axis(title=None, **kaxis_args)
    color = alt.Color("series:N", scale=alt.Scale(domain=STATION_SERIES, range=STATION_COLORS), legend=None)
    orange = alt.Chart(orange_df).mark_line(strokeWidth=1.4, opacity=0.85, clip=True).encode(
        x=alt.X("day:Q", scale=xs, axis=xaxis), y=alt.Y("temp:Q", scale=ys, axis=yaxis),
        color=color, detail="member:N")
    blue = alt.Chart(blue_df).mark_line(strokeWidth=1.4, opacity=0.85, clip=True).encode(
        x=alt.X("day:Q", scale=xs, axis=xaxis), y=alt.Y("temp:Q", scale=ys, axis=yaxis),
        color=color, detail="member:N")
    celsius = alt.layer(orange, blue)
    kelvin = alt.Chart(orange_df).transform_calculate(kelvin="datum.temp + 273.15").mark_line(opacity=0).encode(
        x=alt.X("day:Q", scale=xs, axis=xaxis),
        y=alt.Y("kelvin:Q", scale=alt.Scale(domain=kdom, nice=False, zero=False), axis=kaxis),
        detail="member:N")
    frame = alt.Chart(DUMMY).mark_rect(fillOpacity=0, stroke="#555", strokeWidth=1).encode(
        x=alt.value(0), x2=alt.value(width), y=alt.value(0), y2=alt.value(height))
    return alt.layer(celsius, kelvin, frame, *station_legend()).resolve_scale(y="independent").properties(
        width=width, height=height,
        title=alt.TitleParams(title, anchor="middle", offset=4, font=DJ, fontSize=14.5,
                              fontWeight="normal", color="#222"),
    )


def pairs_df(pairs, member, series):
    return pd.DataFrame({"day": [p[0] for p in pairs], "temp": [p[1] for p in pairs],
                         "member": member, "series": series})


eu_frames = {
    "EUSTACE v1.0": annual(EU_EUSTACE, EU_START, "EUSTACE v1.0"),
    "CRUTEM/HadNMAT": annual(EU_CRUTEM, EU_START, "CRUTEM/HadNMAT"),
    "Berkeley Earth": annual(EU_BERKELEY, EU_START, "Berkeley Earth"),
    "GISTEMP": annual(EU_GISTEMP, EU_LATE_START, "GISTEMP"),
    "NOAAGlobalTemp": annual(EU_NOAA, EU_LATE_START, "NOAAGlobalTemp"),
}
na_frames = {
    "EUSTACE v1.0": annual(NA_EUSTACE, EU_START, "EUSTACE v1.0"),
    "CRUTEM/HadNMAT": annual(NA_CRUTEM, EU_START, "CRUTEM/HadNMAT"),
    "Berkeley Earth": annual(NA_BERKELEY, EU_START, "Berkeley Earth"),
    "GISTEMP": annual(NA_GISTEMP, EU_LATE_START, "GISTEMP"),
    "NOAAGlobalTemp": annual(NA_NOAA, EU_LATE_START, "NOAAGlobalTemp"),
}

tl = top_panel("Europe, land and ocean co-located", 8, eu_frames, [-1.33, 1.5],
               [-1.0, -0.5, 0.0, 0.5, 1.0, 1.5], 321, True)
tr = top_panel("North America, land and ocean co-located", 9, na_frames, [-1.5, 1.5],
               [-1.5, -1.0, -0.5, 0.0, 0.5, 1.0, 1.5], 322, False)

cim_orange = pd.concat([
    pairs_df(CIM_EUSTACE_HI, "hi", "EUSTACE v1.0"),
    pairs_df(CIM_EUSTACE_MID, "mid", "EUSTACE v1.0"),
    pairs_df(CIM_EUSTACE_LO, "lo", "EUSTACE v1.0"),
], ignore_index=True)
cim_blue = pairs_df(CIM_GHCN, "g", "GHCN-D v3.26")

fn_orange = pairs_df(FN_EUSTACE, "mid", "EUSTACE v1.0")
fn_blue = pd.DataFrame({"member": [f"s{p[0]}" for p in FN_GHCN], "day": [p[1] for p in FN_GHCN],
                        "temp": [p[2] for p in FN_GHCN], "series": "GHCN-D v3.26"})

NB = "\u00a0"
bl = station_panel("CIMBAJ" + NB * 20 + "UZM00038262 42.95" + NB + "°" + NB + "N, 59.8167" + NB + "°" + NB + "E",
                   cim_orange, cim_blue, [-18.2, 36.8], [-10, 0, 10, 20, 30], [260, 270, 280, 290, 300],
                   False, "1975", 662, 366)
br = station_panel("FORT NELSON A" + NB * 14 + "CA001192946 58.8333" + NB + "°" + NB + "N, -122.6" + NB + "°" + NB + "E",
                   fn_orange, fn_blue, [-40.0, 25.4], [-30, -20, -10, 0, 10, 20], [240, 250, 260, 270, 280, 290],
                   True, "2003", 662, 366)

row1 = alt.hconcat(tl, tr, spacing=39)
row2 = alt.hconcat(bl, br, spacing=29).resolve_scale(color="independent")
chart = (
    alt.concat(row1, row2, columns=1, align="none", spacing=77)
    .resolve_scale(color="independent")
    .properties(padding={"left": 0, "top": 4, "right": 0, "bottom": 0})
    .configure_view(stroke=None)
)

chart.save("out.html", embed_options={"renderer": "svg", "actions": False})
